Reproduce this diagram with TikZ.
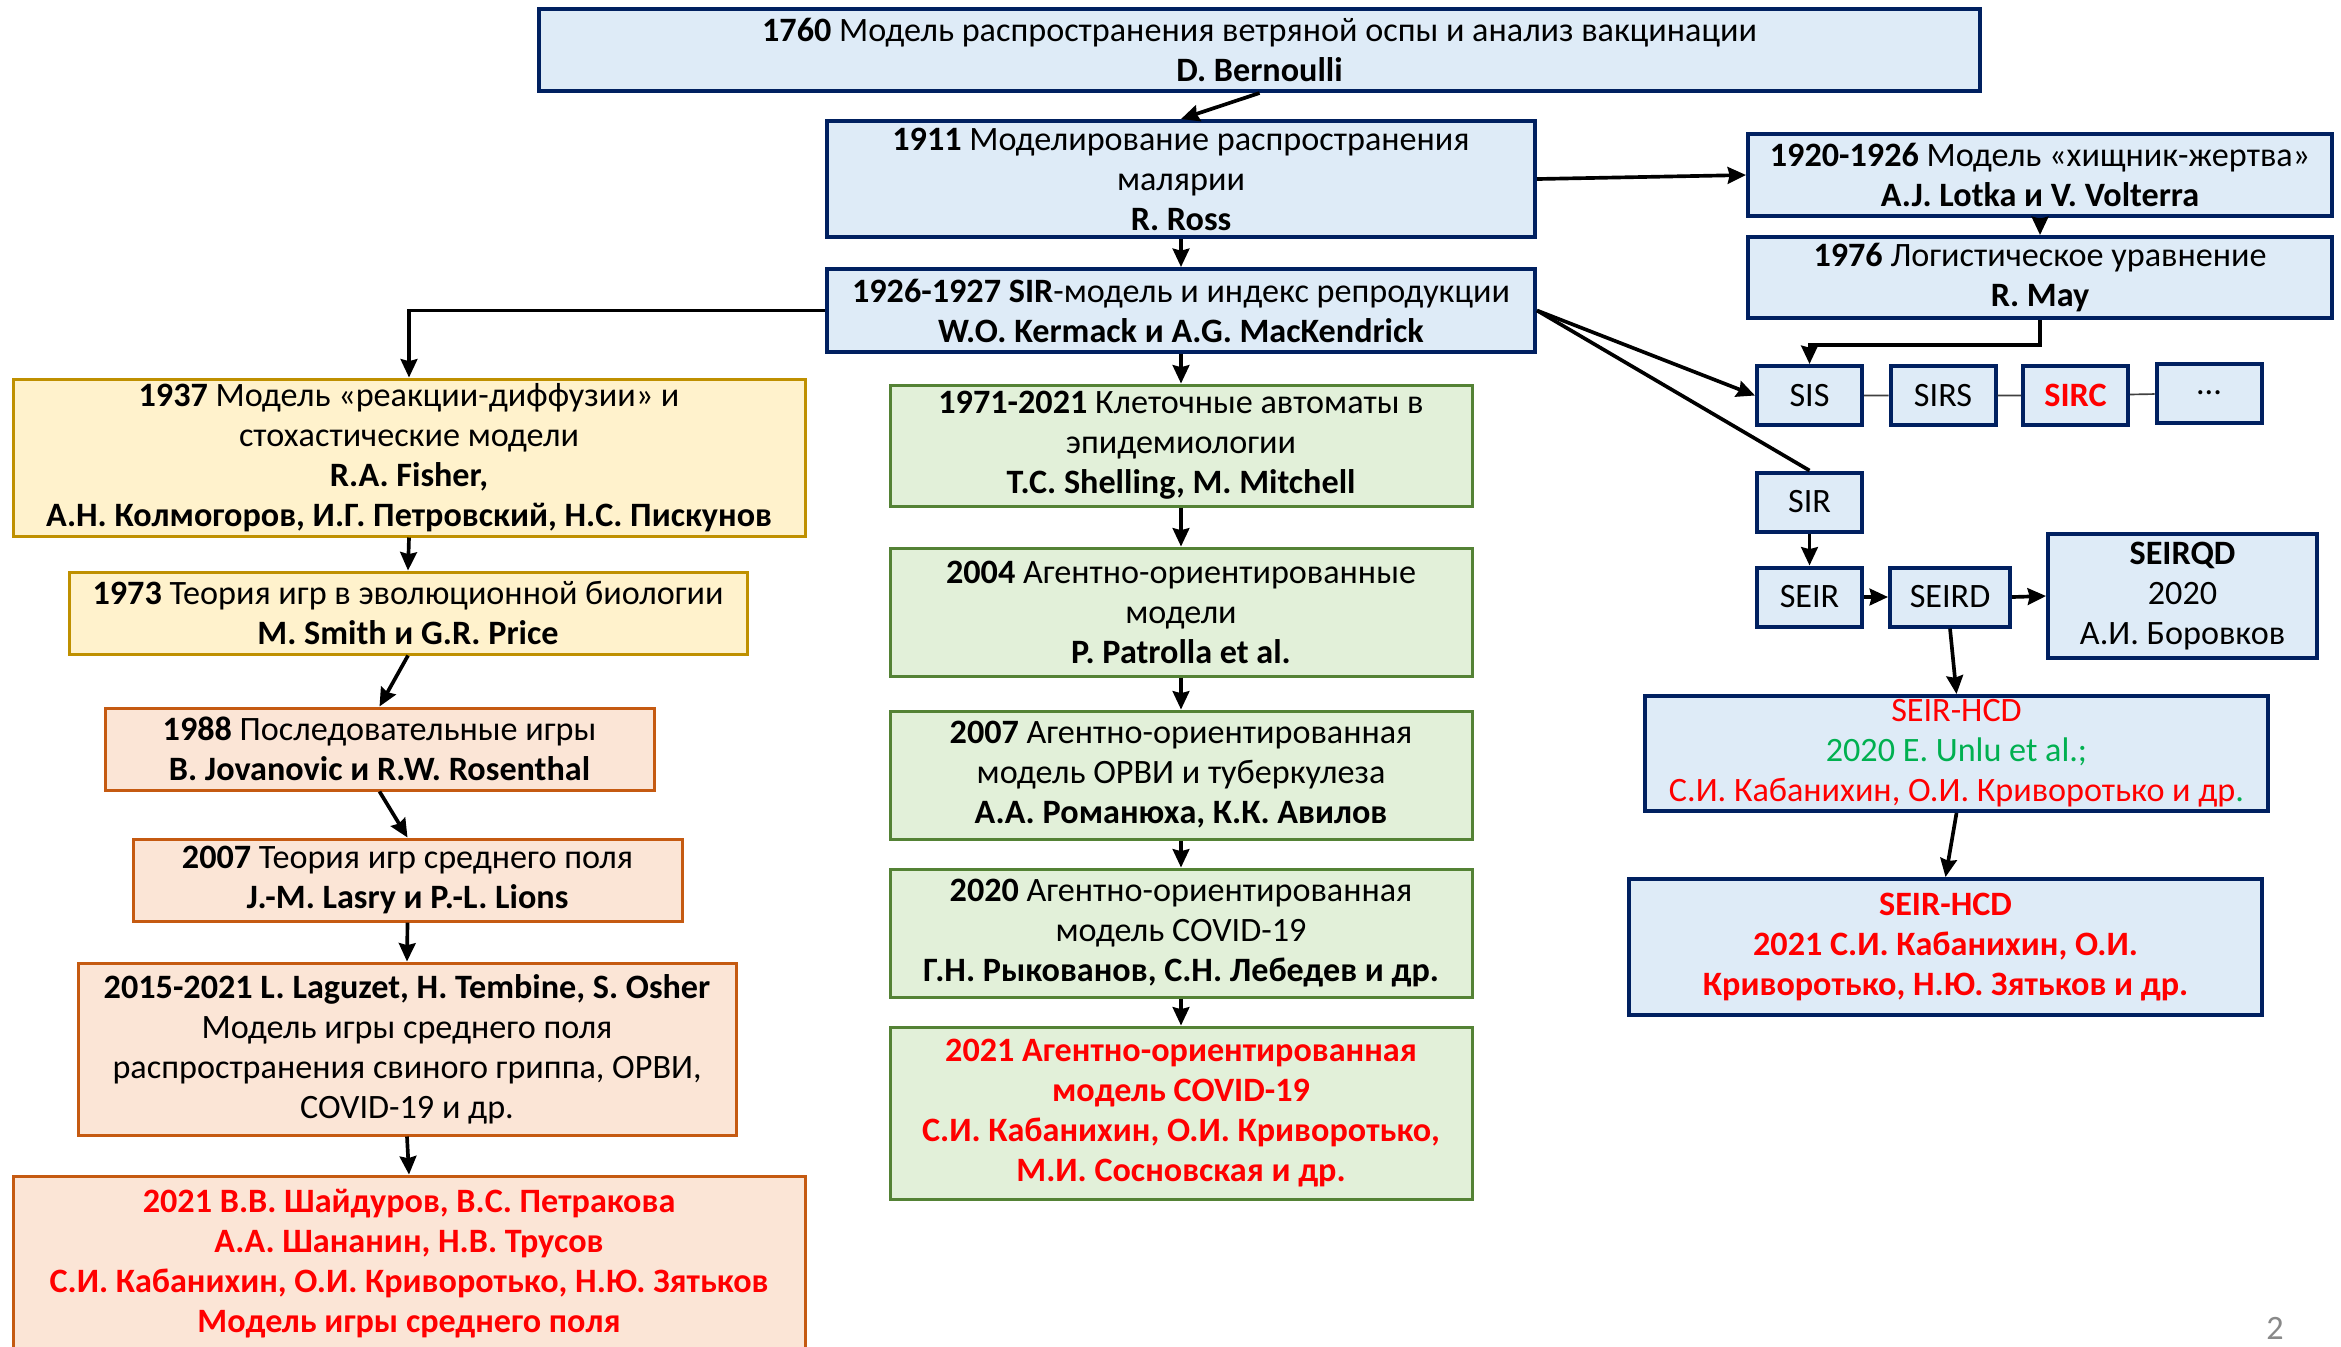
\documentclass[tikz,border=0pt]{standalone}
\usepackage{fontspec}
\setmainfont{Carlito}
\usepackage{xcolor}
\usetikzlibrary{arrows.meta}

\definecolor{bluefill}{HTML}{DEEBF7}
\definecolor{blueline}{HTML}{002060}
\definecolor{yellowfill}{HTML}{FFF2CC}
\definecolor{yellowline}{HTML}{BF9000}
\definecolor{orangefill}{HTML}{FBE5D6}
\definecolor{orangeline}{HTML}{C55A11}
\definecolor{greenfill}{HTML}{E2F0D9}
\definecolor{greenline}{HTML}{548235}
\definecolor{redtext}{HTML}{FF0000}
\definecolor{greentext}{HTML}{00B050}
\definecolor{pagegray}{HTML}{898989}

\begin{document}
\begin{tikzpicture}[
    x=0.3pt, y=-0.3pt,
    box/.style={rectangle, draw, inner sep=0pt, align=center,
        font=\fontsize{10.25}{12}\selectfont},
    bluebox/.style={box, fill=bluefill, draw=blueline, line width=1.2pt},
    yellowbox/.style={box, fill=yellowfill, draw=yellowline, line width=0.9pt},
    orangebox/.style={box, fill=orangefill, draw=orangeline, line width=0.9pt},
    greenbox/.style={box, fill=greenfill, draw=greenline, line width=0.9pt},
    arrow/.style={-{Stealth[length=5.5pt, width=5pt, inset=0.6pt]}, line width=1.1pt},
    link/.style={line width=0.5pt, draw=black!75},
    redbold/.style={text=redtext, font=\fontsize{10.25}{12}\selectfont\bfseries}
]
    \clip (0,0) rectangle (2341,1346);
    \fill[white] (0,0) rectangle (2341,1346);

    % Nodes
    \node[bluebox, minimum width=1441*0.3pt, minimum height=82*0.3pt] (b1760) at (1259.5,50)
        {\textbf{1760} Модель распространения ветряной оспы и анализ вакцинации\\\textbf{D. Bernoulli}};
    \node[bluebox, minimum width=708*0.3pt, minimum height=116*0.3pt] (b1911) at (1181,179)
        {\textbf{1911} Моделирование распространения\\малярии\\\textbf{R. Ross}};
    \node[bluebox, minimum width=708*0.3pt, minimum height=83*0.3pt] (b1926) at (1181,310.5)
        {\textbf{1926-1927 SIR}-модель и индекс репродукции\\\textbf{W.O. Kermack и A.G. MacKendrick}};
    \node[bluebox, minimum width=584*0.3pt, minimum height=82*0.3pt] (lotka) at (2040,175)
        {\textbf{1920-1926} Модель «хищник-жертва»\\\textbf{A.J. Lotka и V. Volterra}};
    \node[bluebox, minimum width=584*0.3pt, minimum height=81*0.3pt] (may) at (2040,277.5)
        {\textbf{1976} Логистическое уравнение\\\textbf{R. May}};

    \node[bluebox, minimum width=105*0.3pt, minimum height=59*0.3pt] (sis) at (1809.5,395.5) {SIS};
    \node[bluebox, minimum width=105*0.3pt, minimum height=59*0.3pt] (sirs) at (1943,395.5) {SIRS};
    \node[bluebox, minimum width=105*0.3pt, minimum height=59*0.3pt] (sirc) at (2075.5,395.5)
        {\textcolor{redtext}{\textbf{SIRC}}};
    \node[bluebox, minimum width=105*0.3pt, minimum height=59*0.3pt] (dots) at (2209,393) {...};
    \node[bluebox, minimum width=105*0.3pt, minimum height=59*0.3pt] (sir) at (1809.5,502) {SIR};
    \node[bluebox, minimum width=105*0.3pt, minimum height=59*0.3pt] (seir) at (1809.5,597) {SEIR};
    \node[bluebox, minimum width=120*0.3pt, minimum height=59*0.3pt] (seird) at (1950,597) {SEIRD};
    \node[bluebox, minimum width=269*0.3pt, minimum height=124*0.3pt] (seirqd) at (2182.5,596)
        {\textbf{SEIRQD}\\2020\\А.И. Боровков};
    \node[bluebox, minimum width=623*0.3pt, minimum height=115*0.3pt] (hcd1) at (1956.5,753.5)
        {\textcolor{redtext}{SEIR-HCD}\\\textcolor{greentext}{2020 E. Unlu et al.;}\\
         \textcolor{redtext}{С.И. Кабанихин, О.И. Криворотько и др}\textcolor{greentext}{.}};
    \node[bluebox, redbold, minimum width=633*0.3pt, minimum height=136*0.3pt] (hcd2) at (1945.5,947)
        {SEIR-HCD\\2021 С.И. Кабанихин, О.И.\\Криворотько, Н.Ю. Зятьков и др.};

    \node[yellowbox, minimum width=792*0.3pt, minimum height=157*0.3pt] (b1937) at (409,457.5)
        {\textbf{1937} Модель «реакции-диффузии» и\\стохастические модели\\\textbf{R.A. Fisher,}\\
         \textbf{А.Н. Колмогоров, И.Г. Петровский, Н.С. Пискунов}};
    \node[yellowbox, minimum width=678*0.3pt, minimum height=82*0.3pt] (b1973) at (408,613)
        {\textbf{1973} Теория игр в эволюционной биологии\\\textbf{M. Smith и G.R. Price}};
    \node[orangebox, minimum width=549*0.3pt, minimum height=82*0.3pt] (b1988) at (379.5,749)
        {\textbf{1988} Последовательные игры\\\textbf{B. Jovanovic и R.W. Rosenthal}};
    \node[orangebox, minimum width=549*0.3pt, minimum height=82*0.3pt] (b2007) at (407.5,880)
        {\textbf{2007} Теория игр среднего поля\\\textbf{J.-M. Lasry и P.-L. Lions}};
    \node[orangebox, minimum width=658*0.3pt, minimum height=172*0.3pt] (b2015) at (407,1049)
        {\textbf{2015-2021 L. Laguzet, H. Tembine, S. Osher}\\Модель игры среднего поля\\
         распространения свиного гриппа, ОРВИ,\\COVID-19 и др.};
    \node[orangebox, redbold, minimum width=792*0.3pt, minimum height=176*0.3pt] (b2021) at (409,1264)
        {2021 В.В. Шайдуров, В.С. Петракова\\А.А. Шананин, Н.В. Трусов\\
         С.И. Кабанихин, О.И. Криворотько, Н.Ю. Зятьков\\Модель игры среднего поля};

    \node[greenbox, minimum width=582*0.3pt, minimum height=121*0.3pt] (g1971) at (1181,445.5)
        {\textbf{1971-2021} Клеточные автоматы в\\эпидемиологии\\\textbf{T.C. Shelling, M. Mitchell}};
    \node[greenbox, minimum width=582*0.3pt, minimum height=128*0.3pt] (g2004) at (1181,612)
        {\textbf{2004} Агентно-ориентированные\\модели\\\textbf{P. Patrolla et al.}};
    \node[greenbox, minimum width=582*0.3pt, minimum height=128*0.3pt] (g2007) at (1181,775)
        {\textbf{2007} Агентно-ориентированная\\модель ОРВИ и туберкулеза\\\textbf{А.А. Романюха, К.К. Авилов}};
    \node[greenbox, minimum width=582*0.3pt, minimum height=128*0.3pt] (g2020) at (1181,933)
        {\textbf{2020} Агентно-ориентированная\\модель COVID-19\\\textbf{Г.Н. Рыкованов, С.Н. Лебедев и др.}};
    \node[greenbox, redbold, minimum width=582*0.3pt, minimum height=172*0.3pt] (g2021) at (1181,1113)
        {2021 Агентно-ориентированная\\модель COVID-19\\С.И. Кабанихин, О.И. Криворотько,\\М.И. Сосновская и др.};

    \node[text=pagegray, inner sep=0pt, font=\fontsize{10.25}{12}\selectfont] (page) at (2275,1328) {2};

    % Arrows
    \draw[arrow] (b1760.south) -- (b1911.north);
    \draw[arrow] (b1911.south) -- (b1926.north);
    \draw[arrow] (b1911.east) -- (lotka.west);
    \draw[arrow] (lotka.south) -- (may.north);
    \draw[arrow] (may.south) -- ++(0,25) -| (sis.north);
    \draw[arrow] (b1926.east) -- (sis.west);
    \draw[line width=1.1pt] (b1926.east) -- (sir.north);
    \draw[link] (sis) -- (sirs) -- (sirc) -- (dots);
    \draw[arrow] (sir.south) -- (seir.north);
    \draw[arrow] (seir.east) -- (seird.west);
    \draw[arrow] (seird.east) -- (seirqd.west);
    \draw[arrow] (seird.south) -- (hcd1.north);
    \draw[arrow] (hcd1.south) -- (hcd2.north);

    \draw[arrow] (b1926.west) -| (b1937.north);
    \draw[arrow] (b1937.south) -- (b1973.north);
    \draw[arrow] (b1973.south) -- (b1988.north);
    \draw[arrow] (b1988.south) -- (b2007.north);
    \draw[arrow] (b2007.south) -- (b2015.north);
    \draw[arrow] (b2015.south) -- (b2021.north);

    \draw[arrow] (b1926.south) -- (g1971.north);
    \draw[arrow] (g1971.south) -- (g2004.north);
    \draw[arrow] (g2004.south) -- (g2007.north);
    \draw[arrow] (g2007.south) -- (g2020.north);
    \draw[arrow] (g2020.south) -- (g2021.north);
\end{tikzpicture}
\end{document}
